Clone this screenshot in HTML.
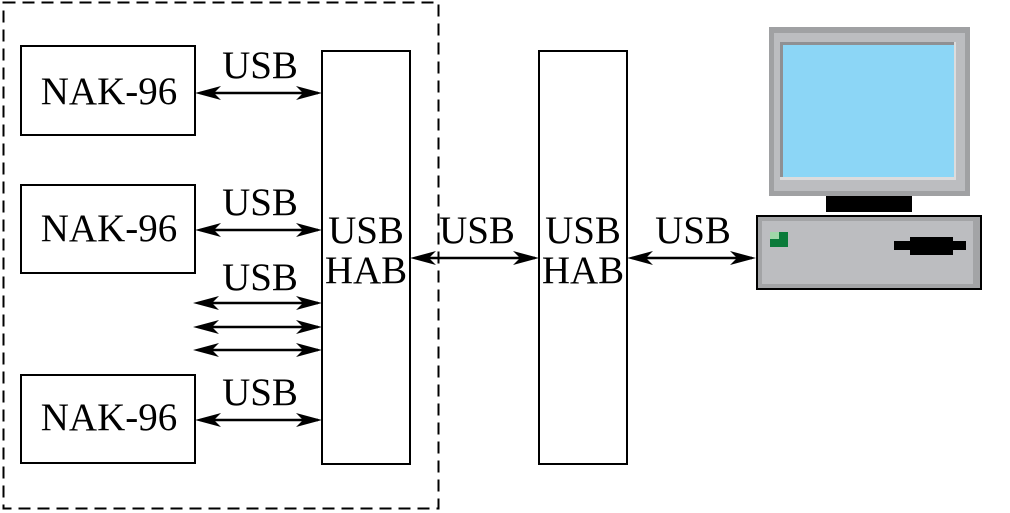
<!DOCTYPE html>
<html><head><style>body{margin:0;background:#fff}svg{display:block}text{font-family:"Liberation Serif",serif;font-size:39px;fill:#000}</style></head><body>
<svg width="1010" height="513" viewBox="0 0 1010 513">
<rect x="3.5" y="2.5" width="435" height="506" fill="none" stroke="#000" stroke-width="2" stroke-dasharray="12,7"/>
<g fill="none" stroke="#000" stroke-width="2">
<rect x="21" y="46" width="174" height="89"/>
<rect x="21" y="185" width="174" height="88"/>
<rect x="21" y="375" width="174" height="88"/>
<rect x="322" y="51" width="88" height="413"/>
<rect x="539" y="51" width="88" height="413"/>
</g>
<g stroke="#000" stroke-width="2.5">
<line x1="200" y1="93" x2="318" y2="93"/>
<line x1="200" y1="230" x2="318" y2="230"/>
<line x1="198" y1="303" x2="318" y2="303"/>
<line x1="198" y1="327" x2="318" y2="327"/>
<line x1="198" y1="350" x2="318" y2="350"/>
<line x1="200" y1="420" x2="318" y2="420"/>
<line x1="415" y1="258" x2="535" y2="258"/>
<line x1="632" y1="258" x2="752" y2="258"/>
</g>
<g fill="#000">
<path d="M195,93 l26,-7 l-7,7 l7,7z M322,93 l-26,-7 l7,7 l-7,7z"/>
<path d="M195,230 l26,-7 l-7,7 l7,7z M322,230 l-26,-7 l7,7 l-7,7z"/>
<path d="M193,303 l26,-7 l-7,7 l7,7z M322,303 l-26,-7 l7,7 l-7,7z"/>
<path d="M193,327 l26,-7 l-7,7 l7,7z M322,327 l-26,-7 l7,7 l-7,7z"/>
<path d="M193,350 l26,-7 l-7,7 l7,7z M322,350 l-26,-7 l7,7 l-7,7z"/>
<path d="M195,420 l26,-7 l-7,7 l7,7z M322,420 l-26,-7 l7,7 l-7,7z"/>
<path d="M410,258 l26,-7 l-7,7 l7,7z M539,258 l-26,-7 l7,7 l-7,7z"/>
<path d="M627,258 l26,-7 l-7,7 l7,7z M756,258 l-26,-7 l7,7 l-7,7z"/>
</g>
<text x="109" y="104" text-anchor="middle">NAK-96</text>
<text x="109" y="241" text-anchor="middle">NAK-96</text>
<text x="109" y="430" text-anchor="middle">NAK-96</text>
<text x="260" y="78" text-anchor="middle">USB</text>
<text x="260" y="215" text-anchor="middle">USB</text>
<text x="260" y="290" text-anchor="middle">USB</text>
<text x="260" y="405" text-anchor="middle">USB</text>
<text x="366" y="243" text-anchor="middle">USB</text>
<text x="366" y="283" text-anchor="middle">HAB</text>
<text x="583" y="243" text-anchor="middle">USB</text>
<text x="583" y="283" text-anchor="middle">HAB</text>
<text x="477" y="243" text-anchor="middle">USB</text>
<text x="693" y="243" text-anchor="middle">USB</text>
<rect x="769" y="27" width="201" height="169" fill="#a0a1a3"/>
<rect x="774" y="33" width="191" height="158" fill="#bcbdc0"/>
<rect x="780" y="42" width="176" height="138" fill="#dcdcdd"/>
<rect x="780" y="42" width="174" height="135" fill="#8f9093"/>
<rect x="783" y="45" width="171" height="132" fill="#8cd6f6"/>
<rect x="826" y="196" width="86" height="16" fill="#000"/>
<rect x="756" y="215" width="226" height="75" fill="#000"/>
<rect x="758" y="217" width="222" height="71" fill="#a3a4a6"/>
<rect x="762" y="221" width="211" height="63" fill="#bcbdc0"/>
<rect x="770" y="232" width="18" height="15" fill="#0b7a3a"/>
<rect x="770" y="232" width="9" height="7" fill="#9fd7a8"/>
<rect x="894" y="241" width="72" height="9" fill="#000"/>
<rect x="910" y="237" width="43" height="18" fill="#000"/>
</svg>
</body></html>
